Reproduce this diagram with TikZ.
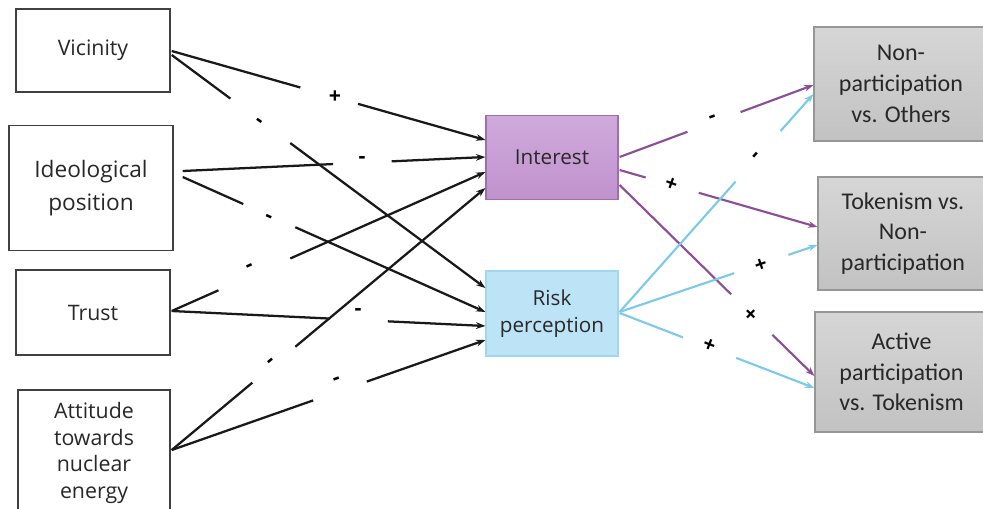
\documentclass[tikz,border=0pt]{standalone}
\usepackage{fontspec}
\setmainfont{Open Sans}
\newfontfamily\calib{Carlito}
\usetikzlibrary{calc,arrows.meta}
\definecolor{intfill}{RGB}{192,146,205}
\definecolor{intfilltop}{RGB}{208,170,220}
\definecolor{intdraw}{RGB}{160,110,175}
\definecolor{riskfill}{RGB}{189,227,247}
\definecolor{riskdraw}{RGB}{160,214,240}
\definecolor{greytop}{RGB}{214,214,214}
\definecolor{greybot}{RGB}{194,194,194}
\definecolor{greydraw}{RGB}{150,150,150}
\definecolor{purp}{RGB}{140,78,150}
\definecolor{lblue}{RGB}{125,202,232}
\definecolor{txt}{RGB}{40,40,40}
\newcommand\gapline[5]{%
  \path #2 -- #3 coordinate[pos=#4](ga) coordinate[pos=#5](gb);
  \draw[#1] #2 -- (ga);
  \draw[#1,-{Stealth[length=7pt,width=5pt]}] (gb) -- #3;}
\tikzset{
  leftbox/.style={draw=black!75,line width=1.1pt,fill=white,align=center,inner sep=0pt,
    text=txt,font=\fontsize{16}{20}\selectfont},
  rightbox/.style={draw=greydraw,line width=0.8pt,top color=greytop,bottom color=greybot,
    align=center,inner sep=0pt,text=txt,font=\calib\fontsize{18}{23}\selectfont},
  sign/.style={inner sep=0pt,font=\bfseries\fontsize{16}{16}\selectfont},
  blk/.style={line width=1.7pt,black!90},
  pl/.style={line width=1.6pt,purp},
  bl/.style={line width=1.6pt,lblue},
}
\begin{document}
\begin{tikzpicture}[x=0.75pt,y=-0.75pt]
\useasboundingbox (0,0) rectangle (983,508);
\clip (0,0) rectangle (983,508);
% left boxes
\node[leftbox,minimum width=154*0.75pt,minimum height=83*0.75pt] (vic) at (93,50.5) {Vicinity};
\node[leftbox,minimum width=164*0.75pt,minimum height=125*0.75pt,font=\fontsize{17}{25}\selectfont] (ideo) at (91,188) {Ideological\\position};
\node[leftbox,minimum width=154*0.75pt,minimum height=85*0.75pt] (trust) at (93,312.5) {Trust};
\node[leftbox,minimum width=152*0.75pt,minimum height=126*0.75pt] (att) at (94,453) {Attitude\\towards\\nuclear\\energy};
% middle boxes
\node[draw=intdraw,line width=0.9pt,top color=intfilltop,bottom color=intfill,inner sep=0pt,text=txt,
  minimum width=132*0.75pt,minimum height=84*0.75pt,font=\fontsize{15.5}{20}\selectfont] (int) at (552,157.5) {Interest};
\node[draw=riskdraw,line width=0.9pt,fill=riskfill,inner sep=0pt,align=center,text=txt,
  minimum width=132*0.75pt,minimum height=85*0.75pt,font=\fontsize{15.5}{20}\selectfont] (risk) at (552,313.5) {Risk\\perception};
% right boxes
\node[rightbox,minimum width=174*0.75pt,minimum height=114*0.75pt] (np) at (901,84) {Non-\\participation\\vs. Others};
\node[rightbox,minimum width=170*0.75pt,minimum height=113*0.75pt] (tok) at (903,233.5) {Tokenism vs.\\Non-\\participation};
\node[rightbox,minimum width=173*0.75pt,minimum height=120*0.75pt] (act) at (901.5,372) {Active\\participation\\vs. Tokenism};
% left connectors
\gapline{blk}{($(vic.east)+(1,0.5)$)}{($(int.west)+(0,-17.5)$)}{0.41}{0.594}
\gapline{blk}{($(vic.east)+(1,4.5)$)}{($(risk.west)+(0,-25.5)$)}{0.187}{0.378}
\gapline{blk}{($(ideo.east)+(9,-17)$)}{($(int.west)+(0,-0.5)$)}{0.497}{0.69}
\gapline{blk}{($(ideo.east)+(9,-11)$)}{($(risk.west)+(0,-1.5)$)}{0.20}{0.372}
\gapline{blk}{($(trust.east)+(1,-1.5)$)}{($(int.west)+(0,14.5)$)}{0.149}{0.378}
\gapline{blk}{($(trust.east)+(1,-1.5)$)}{($(risk.west)+(0,12.5)$)}{0.505}{0.689}
\gapline{blk}{($(att.east)+(1,-3)$)}{($(int.west)+(0,30.5)$)}{0.257}{0.394}
\gapline{blk}{($(att.east)+(1,-3)$)}{($(risk.west)+(0,26.5)$)}{0.451}{0.622}
% right connectors
\gapline{pl}{($(int.east)+(1,-0.5)$)}{($(np.west)+(0,1)$)}{0.35}{0.624}
\gapline{pl}{($(int.east)+(1,12.5)$)}{($(tok.west)+(0,-6.5)$)}{0.132}{0.40}
\gapline{pl}{($(int.east)+(1,27.5)$)}{($(act.west)+(0,4)$)}{0.572}{0.784}
\gapline{bl}{($(risk.east)+(1,-1.5)$)}{($(np.west)+(0,10)$)}{0.598}{0.83}
\gapline{bl}{($(risk.east)+(1,-1.5)$)}{($(tok.west)+(0,11.5)$)}{0.579}{0.853}
\gapline{bl}{($(risk.east)+(1,-0.5)$)}{($(act.west)+(0,16)$)}{0.325}{0.598}
% signs
\node[sign] (s1) at (335,97) {+};
\node[sign,rotate=-36] (s2) at (258,123) {-};
\node[sign] (s3) at (362,160) {-};
\node[sign,rotate=-24] (s4) at (268,219) {-};
\node[sign,rotate=24] (s5) at (250,268) {-};
\node[sign] (s6) at (358,312) {-};
\node[sign,rotate=40] (s7) at (272,363) {-};
\node[sign,rotate=19] (s8) at (337,381) {-};
\node[sign,rotate=20] (s9) at (713,119) {-};
\node[sign,rotate=-20] (s10) at (671,185) {+};
\node[sign,rotate=-44] (s11) at (750,315) {+};
\node[sign,rotate=48] (s12) at (757,157) {-};
\node[sign,rotate=19] (s13) at (761,265) {+};
\node[sign,rotate=-21] (s14) at (709,346) {+};
\end{tikzpicture}
\end{document}
